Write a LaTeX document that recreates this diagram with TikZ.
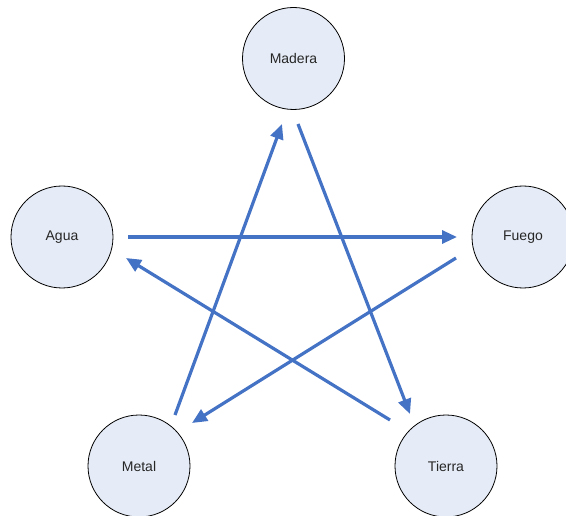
\documentclass[tikz,border=0pt]{standalone}
\usepackage{fontspec}
\setmainfont{Liberation Sans}
\usetikzlibrary{arrows.meta}
\definecolor{circfill}{HTML}{E6ECF7}
\definecolor{arrowblue}{HTML}{4472C4}
\begin{document}
\begin{tikzpicture}[x=1pt,y=-1pt,
  element/.style={circle,draw=black,line width=0.8pt,fill=circfill,minimum size=102pt,inner sep=0pt,font=\fontsize{14}{16}\selectfont,text=black!85},
  cycle/.style={draw=arrowblue,line width=3.2pt,-{Triangle[length=15pt,width=13pt]}}]
\useasboundingbox (0,0) rectangle (566,516);
\node[element] (madera) at (293.5,58.5) {Madera};
\node[element] (agua) at (62,237) {Agua};
\node[element] (fuego) at (523,237) {Fuego};
\node[element] (metal) at (139,466) {Metal};
\node[element] (tierra) at (446,466) {Tierra};
\coordinate (af1) at (128,237);
\coordinate (af2) at (457,237);
\coordinate (fm1) at (456,258);
\coordinate (fm2) at (192,423);
\coordinate (mm1) at (175,415);
\coordinate (mm2) at (282,124);
\coordinate (mt1) at (298,124);
\coordinate (mt2) at (410,414);
\coordinate (ta1) at (390,420);
\coordinate (ta2) at (126,258);
\draw[cycle] (af1) -- (af2);
\draw[cycle] (fm1) -- (fm2);
\draw[cycle] (mm1) -- (mm2);
\draw[cycle] (mt1) -- (mt2);
\draw[cycle] (ta1) -- (ta2);
\end{tikzpicture}
\end{document}
